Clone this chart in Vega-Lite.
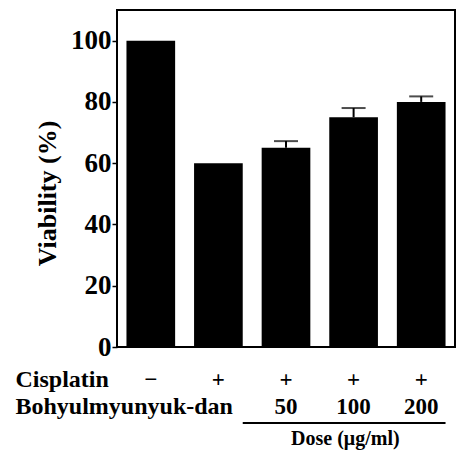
{
  "$schema": "https://vega.github.io/schema/vega-lite/v6.json",
  "autosize": {"type": "none"},
  "padding": {"left": 117, "top": 10, "right": 5, "bottom": 103},
  "width": 338,
  "height": 337,
  "config": {
    "view": {"stroke": "black", "strokeWidth": 2},
    "font": "Liberation Serif"
  },
  "datasets": {
    "bars": [
      {"group": "−|", "value": 100, "upper": null},
      {"group": "+| ", "value": 60, "upper": null},
      {"group": "+|50", "value": 65, "upper": 67.2},
      {"group": "+|100", "value": 75, "upper": 78},
      {"group": "+|200", "value": 80, "upper": 81.8}
    ],
    "dose": [
      {"start": "+| ", "end": "+|200", "mid": "+|100", "level": -24.8, "textLevel": -32, "text": "Dose (μg/ml)"}
    ]
  },
  "layer": [
    {
      "data": {"name": "bars"},
      "mark": {"type": "bar", "color": "black"},
      "encoding": {
        "x": {
          "field": "group", "type": "nominal",
          "scale": {"domain": ["−|", "+| ", "+|50", "+|100", "+|200"], "paddingInner": 0.28, "paddingOuter": 0.14},
          "axis": {
            "domain": false, "ticks": false, "labelAngle": 0,
            "labelExpr": "split(datum.label, '|')",
            "labelFont": "Liberation Serif", "labelFontWeight": "bold", "labelFontSize": 23,
            "labelColor": "black", "labelBaseline": "alphabetic", "labelPadding": 39,
            "labelLineHeight": 27,
            "title": ["Cisplatin", "Bohyulmyunyuk-dan"],
            "titleFont": "Liberation Serif", "titleFontWeight": "bold", "titleFontSize": 24,
            "titleColor": "black", "titleAlign": "left", "titleBaseline": "alphabetic",
            "titleAnchor": "start", "titleX": -102, "titleY": 39, "titleLineHeight": 27
          }
        },
        "y": {
          "field": "value", "type": "quantitative",
          "scale": {"domain": [0, 110], "nice": false},
          "axis": {
            "values": [0, 10, 20, 30, 40, 50, 60, 70, 80, 90, 100],
            "labelExpr": "datum.value % 20 === 0 ? datum.label : ''",
            "grid": false, "domain": false,
            "tickColor": "black", "tickWidth": 1.5,
            "tickSize": {"condition": {"test": "datum.value % 20 === 0", "value": 5}, "value": 3},
            "labelPadding": 1,
            "labelFont": "Liberation Serif", "labelFontWeight": "bold", "labelFontSize": 27,
            "labelColor": "black",
            "title": "Viability (%)",
            "titleFont": "Liberation Serif", "titleFontWeight": "bold", "titleFontSize": 26,
            "titleColor": "black", "titleX": -70, "titleY": 183, "titleAlign": "center",
            "titleBaseline": "middle", "titleAngle": -90
          }
        }
      }
    },
    {
      "data": {"name": "bars"},
      "transform": [{"filter": "isValid(datum.upper)"}],
      "mark": {"type": "rule", "color": "black", "strokeWidth": 2},
      "encoding": {
        "x": {"field": "group", "type": "nominal"},
        "y": {"field": "value", "type": "quantitative"},
        "y2": {"field": "upper"}
      }
    },
    {
      "data": {"name": "bars"},
      "transform": [{"filter": "isValid(datum.upper)"}],
      "mark": {"type": "tick", "color": "black", "size": 24, "thickness": 2, "orient": "horizontal"},
      "encoding": {
        "x": {"field": "group", "type": "nominal"},
        "y": {"field": "upper", "type": "quantitative"}
      }
    },
    {
      "data": {"name": "dose"},
      "mark": {"type": "rule", "color": "black", "strokeWidth": 2, "clip": false},
      "encoding": {
        "x": {"field": "start", "type": "nominal", "bandPosition": 1},
        "x2": {"field": "end", "bandPosition": 1},
        "y": {"field": "level", "type": "quantitative"}
      }
    },
    {
      "data": {"name": "dose"},
      "mark": {"type": "text", "color": "black", "font": "Liberation Serif", "fontWeight": "bold", "fontSize": 20, "baseline": "alphabetic", "align": "center", "clip": false},
      "encoding": {
        "x": {"field": "mid", "type": "nominal", "bandPosition": 0.33},
        "y": {"field": "textLevel", "type": "quantitative"},
        "text": {"field": "text"}
      }
    }
  ]
}
